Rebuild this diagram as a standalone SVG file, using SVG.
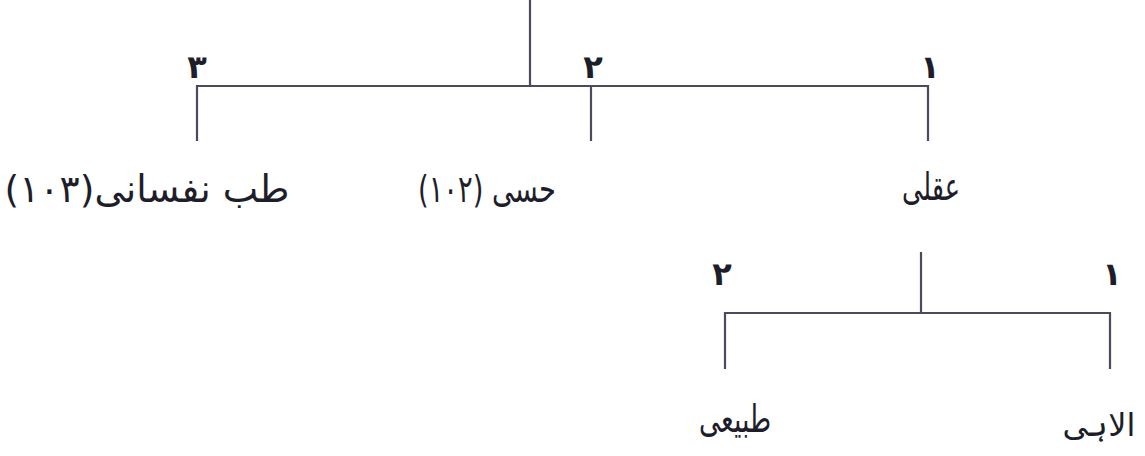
<svg xmlns="http://www.w3.org/2000/svg" width="1145" height="456" viewBox="0 0 1145 456">
<style>
.ln{stroke:#4a4b5c;stroke-width:2.2;fill:none;stroke-linecap:square}
.lbl{font-family:"DejaVu Sans",sans-serif;font-size:38px;fill:#1e1e2a;direction:rtl;text-anchor:middle}
.num{font-family:"DejaVu Sans",sans-serif;font-size:32px;font-weight:bold;fill:#1e1e2a;text-anchor:middle}
</style>
<rect width="1145" height="456" fill="#ffffff"/>
<g id="connectors">
<path class="ln" d="M530,0 V86 M197,140 V86 H928 V140 M591,86 V140"/>
<path class="ln" d="M921,253 V313 M725,368 V313 H1110 V368"/>
</g>
<g id="numbers">
<text class="num" x="197" y="78">٣</text>
<text class="num" x="593" y="78">٢</text>
<text class="num" x="930" y="78">١</text>
<text class="num" x="722" y="285">٢</text>
<text class="num" x="1112" y="285">١</text>
</g>
<g id="node-nafsani"><text class="lbl" x="147" y="202" textLength="285" lengthAdjust="spacingAndGlyphs">طب نفسانی(١٠٣)</text></g>
<g id="node-hissi"><text class="lbl" x="487" y="202" textLength="138" lengthAdjust="spacingAndGlyphs">حسی (١٠٢)</text></g>
<g id="node-aqli"><text class="lbl" x="931" y="200" textLength="58" lengthAdjust="spacingAndGlyphs">عقلی</text></g>
<g id="node-tabii"><text class="lbl" x="735" y="432" textLength="72" lengthAdjust="spacingAndGlyphs">طبیعی</text></g>
<g id="node-ilahi"><text class="lbl" x="1099" y="436" style="font-size:32px">الاہی</text></g>
</svg>
